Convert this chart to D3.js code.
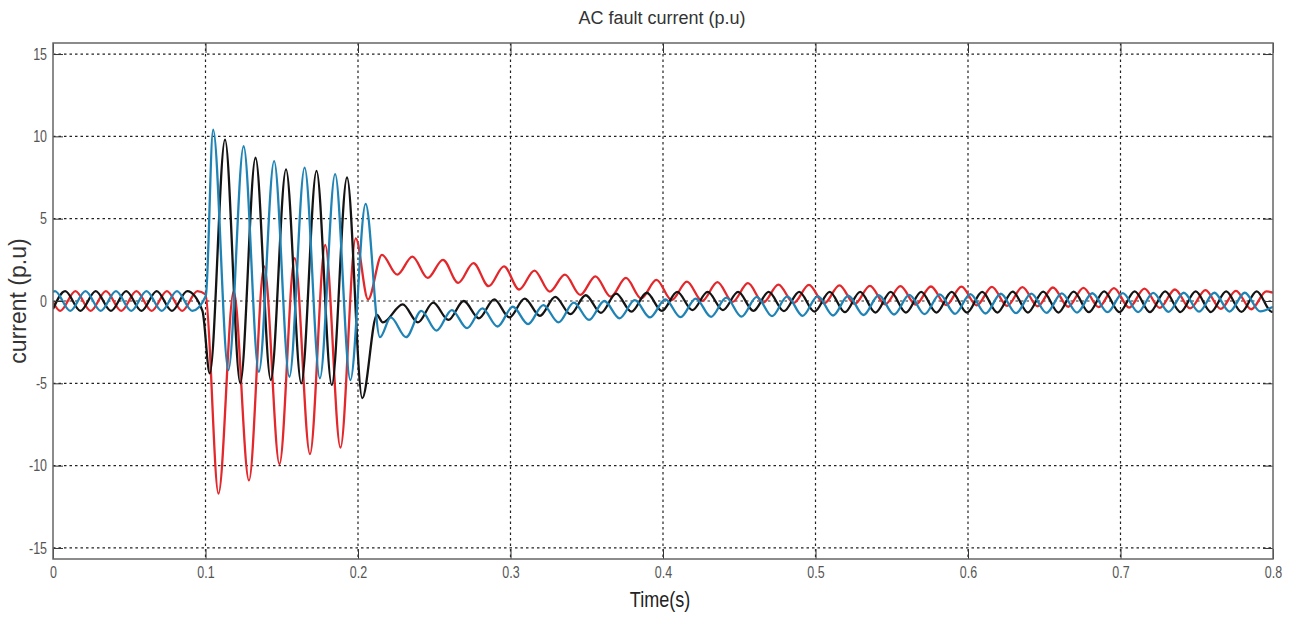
<!DOCTYPE html>
<html>
<head>
<meta charset="utf-8">
<script src="https://cdn.jsdelivr.net/npm/d3@7"></script>
<style>
  html, body { margin: 0; padding: 0; background: #fff; }
  svg { display: block; }
</style>
</head>
<body>
<script>
// ---------------- DATA ----------------
const xTicks = [0, 0.1, 0.2, 0.3, 0.4, 0.5, 0.6, 0.7, 0.8];
const xTickLabels = ["0", "0.1", "0.2", "0.3", "0.4", "0.5", "0.6", "0.7", "0.8"];
const yTicks = [-15, -10, -5, 0, 5, 10, 15];
const yTickLabels = ["-15", "-10", "-5", "0", "5", "10", "15"];

const HALF = 0.01; // spacing of successive extrema (50 Hz)

// Red phase: [time, value] key points and extremum runs
const redStart = [[0, -0.06]];
const redPreT0 = 0.0047;
const redPre = [-0.6, 0.6, -0.6, 0.6, -0.6, 0.6, -0.6, 0.6, -0.6, 0.6];
const redOnset = [[0.1, 0.4]];
const redFaultT0 = 0.1085;
const redFault = [-11.7, 0.6, -10.9, 2.1, -9.9, 2.6, -9.3, 3.4, -8.9, 3.8];
const redClear = [[0.2066, 0.1]];
const redPostT0 = 0.2157;
const redPost = [2.8, 1.6, 2.7, 1.4, 2.5, 1.1, 2.3, 0.9, 2.1, 0.7,
  1.85, 0.57, 1.6, 0.37, 1.5, 0.26, 1.4, 0.16, 1.28, 0.06,
  1.18, 0.0, 1.15, -0.05, 1.08, -0.1, 1.0, -0.12, 0.98, -0.15,
  0.95, -0.18, 0.92, -0.2, 0.9, -0.22, 0.88, -0.25, 0.87, -0.27,
  0.86, -0.3, 0.84, -0.32, 0.82, -0.35, 0.8, -0.37, 0.78, -0.4,
  0.75, -0.42, 0.7, -0.45, 0.66, -0.48, 0.62, -0.5, 0.58];
const redEnd = [[0.8, 0.5]];

// Black phase
const blackStart = [[0, -0.49]];
const blackPreT0 = 0.008;
const blackPre = [0.6, -0.6, 0.6, -0.6, 0.6, -0.6, 0.6, -0.6, 0.6, -0.6];
const blackFaultT0 = 0.1028;
const blackFault = [-4.4, 9.8, -5.0, 8.7, -4.8, 8.0, -5.0, 7.9, -5.1, 7.5, -5.9];
const blackClear = [[0.2124, -0.85], [0.2163, -1.3]];
const blackPostT0 = 0.2293;
const blackPost = [-0.2, -1.3, -0.1, -1.15, 0.0, -1.05, 0.1, -1.0, 0.15, -0.9,
  0.25, -0.8, 0.35, -0.72, 0.45, -0.65, 0.5, -0.6, 0.55, -0.55,
  0.55, -0.55, 0.55, -0.6, 0.55, -0.62, 0.55, -0.65, 0.55, -0.68,
  0.55, -0.7, 0.55, -0.7, 0.55, -0.7, 0.56, -0.7, 0.56, -0.7,
  0.57, -0.7, 0.57, -0.7, 0.57, -0.68, 0.58, -0.68, 0.58, -0.68,
  0.58, -0.67, 0.58, -0.67, 0.58, -0.66, 0.58, -0.66];
const blackEnd = [[0.8, -0.62]];

// Blue phase
const blueStart = [[0, 0.55]];
const bluePreT0 = 0.0013;
const bluePre = [0.6, -0.6, 0.6, -0.6, 0.6, -0.6, 0.6, -0.6, 0.6, -0.6];
const blueOnset = [[0.1002, 0.3]];
const blueFaultT0 = 0.105;
const blueFault = [10.4, -4.2, 9.4, -4.3, 8.5, -4.6, 8.1, -4.7, 7.7, -4.8, 5.9];
const blueClear = [[0.2144, -2.2]];
const bluePostT0 = 0.2215;
const bluePost = [-1.0, -2.2, -0.6, -1.8, -0.55, -1.65, -0.45, -1.55, -0.35, -1.4,
  -0.25, -1.3, -0.1, -1.15, 0.0, -1.05, 0.05, -1.0, 0.1, -0.98,
  0.15, -0.96, 0.2, -0.95, 0.25, -0.92, 0.28, -0.9, 0.3, -0.88,
  0.32, -0.85, 0.35, -0.82, 0.37, -0.8, 0.4, -0.78, 0.42, -0.76,
  0.44, -0.74, 0.45, -0.72, 0.46, -0.7, 0.47, -0.68, 0.48, -0.67,
  0.49, -0.66, 0.5, -0.65, 0.5, -0.64, 0.5, -0.63];
const blueEnd = [[0.8, -0.35]];

// ---------------- CHART ----------------
const W = 1296, H = 619;
const pLeft = 53, pRight = 1273, pTop = 43, pBottom = 559;

const svg = d3.select("body").append("svg").attr("width", W).attr("height", H);

const x = d3.scaleLinear().domain([0, 0.8]).range([pLeft, pRight]);
const y = d3.scaleLinear().domain([-15.67, 15.67]).range([pBottom, pTop]);

const run = (t0, vals) => vals.map((v, i) => [t0 + i * HALF, v]);

const series = [
  { color: "#e3272b", pts: [].concat(redStart, run(redPreT0, redPre), redOnset, run(redFaultT0, redFault), redClear, run(redPostT0, redPost), redEnd) },
  { color: "#141414", pts: [].concat(blackStart, run(blackPreT0, blackPre), run(blackFaultT0, blackFault), blackClear, run(blackPostT0, blackPost), blackEnd) },
  { color: "#1f84b5", pts: [].concat(blueStart, run(bluePreT0, bluePre), blueOnset, run(blueFaultT0, blueFault), blueClear, run(bluePostT0, bluePost), blueEnd) }
];

// grid
const gridG = svg.append("g");
gridG.selectAll("line.gx").data(xTicks.slice(1, -1)).enter().append("line")
  .attr("x1", d => x(d)).attr("x2", d => x(d)).attr("y1", pTop).attr("y2", pBottom)
  .attr("stroke", "#222").attr("stroke-width", 1.2).attr("stroke-dasharray", "2.5,3");
gridG.selectAll("line.gy").data(yTicks).enter().append("line")
  .attr("y1", d => y(d)).attr("y2", d => y(d)).attr("x1", pLeft).attr("x2", pRight)
  .attr("stroke", "#222").attr("stroke-width", 1.2).attr("stroke-dasharray", "2.5,3");

// clip
svg.append("clipPath").attr("id", "clip").append("rect")
  .attr("x", pLeft).attr("y", pTop).attr("width", pRight - pLeft).attr("height", pBottom - pTop);

const line = d3.line().x(d => x(d[0])).y(d => y(d[1])).curve(d3.curveMonotoneX);
const lg = svg.append("g").attr("clip-path", "url(#clip)");
series.forEach(s => {
  lg.append("path").attr("d", line(s.pts)).attr("fill", "none")
    .attr("stroke", s.color).attr("stroke-width", 2.3).attr("stroke-linejoin", "round");
});

// axes (ticks inward on all sides)
const fontReg = "'Liberation Sans', Arial, sans-serif";
const axB = d3.axisBottom(x).tickValues(xTicks).tickFormat((d, i) => xTickLabels[i]).tickSizeInner(-10).tickSizeOuter(0).tickPadding(8);
const axL = d3.axisLeft(y).tickValues(yTicks).tickFormat((d, i) => yTickLabels[i]).tickSizeInner(-10).tickSizeOuter(0).tickPadding(6);
const axT = d3.axisTop(x).tickValues(xTicks).tickFormat("").tickSizeInner(-10).tickSizeOuter(0);
const axR = d3.axisRight(y).tickValues(yTicks).tickFormat("").tickSizeInner(-10).tickSizeOuter(0);

function style(g) {
  g.select(".domain").remove();
  g.selectAll(".tick line").attr("stroke", "#333").attr("stroke-width", 1);
  g.selectAll(".tick text").attr("fill", "#555").style("font-family", fontReg).style("font-size", "16px");
}
const gB = svg.append("g").attr("transform", `translate(0,${pBottom})`).call(axB).call(style);
gB.selectAll(".tick text").attr("transform", "scale(0.78,1)");
const gL = svg.append("g").attr("transform", `translate(${pLeft},0)`).call(axL).call(style);
gL.selectAll(".tick text").attr("x", -6 / 0.78).attr("transform", "scale(0.78,1)");
svg.append("g").attr("transform", `translate(0,${pTop})`).call(axT).call(style);
svg.append("g").attr("transform", `translate(${pRight},0)`).call(axR).call(style);

// box
svg.append("rect").attr("x", pLeft).attr("y", pTop).attr("width", pRight - pLeft).attr("height", pBottom - pTop)
  .attr("fill", "none").attr("stroke", "#666").attr("stroke-width", 1.5);

// titles
svg.append("text").attr("x", 662).attr("y", 24).attr("text-anchor", "middle")
  .style("font-family", fontReg).style("font-size", "18px").attr("fill", "#333")
  .text("AC fault current (p.u)");
svg.append("text").attr("transform", "translate(660,607) scale(0.82,1)").attr("text-anchor", "middle")
  .style("font-family", fontReg).style("font-size", "22px").attr("fill", "#222")
  .text("Time(s)");
svg.append("text").attr("transform", "translate(26,301) rotate(-90)").attr("text-anchor", "middle")
  .style("font-family", fontReg).style("font-size", "23px").attr("fill", "#333")
  .text("current (p.u)");
</script>
</body>
</html>
